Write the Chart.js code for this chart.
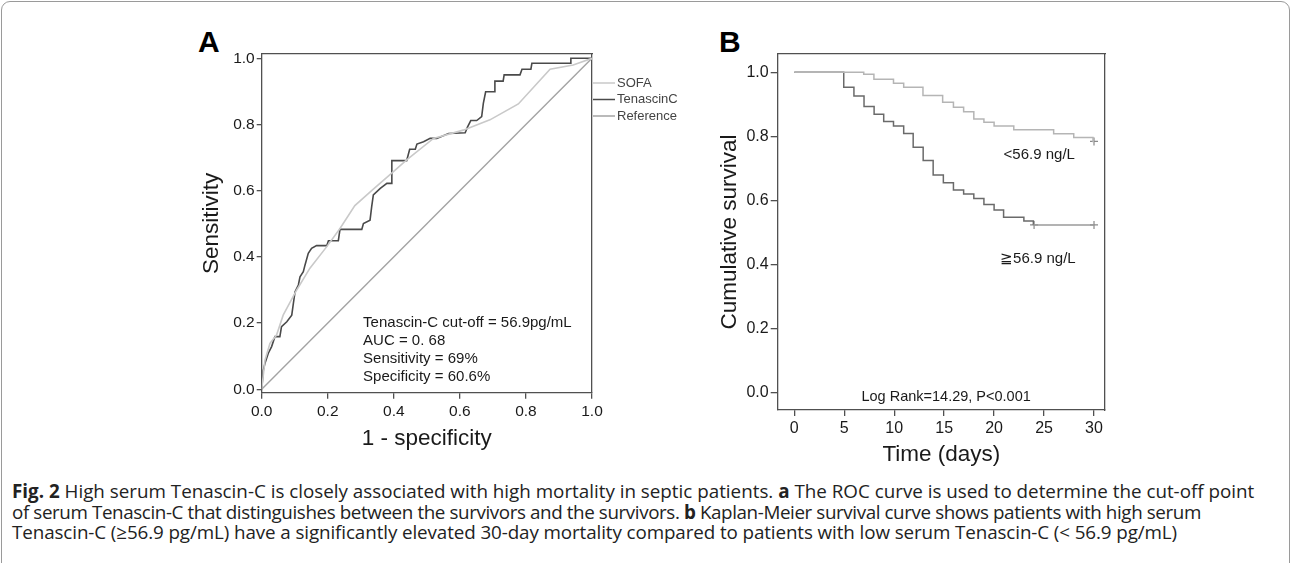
<!DOCTYPE html>
<html>
<head>
<meta charset="utf-8">
<script src="https://cdn.jsdelivr.net/npm/chart.js@4/dist/chart.umd.min.js"></script>
<style>
  body { margin: 0; background: #fff; width: 1292px; height: 563px; overflow: hidden; position: relative; font-family: "Liberation Sans", Arial, sans-serif; }
  .frame { position: absolute; left: 1px; top: 1px; width: 1287px; height: 600px; border: 1px solid #9a9a9a; border-radius: 9px; }
  .panel { position: absolute; font-weight: bold; font-size: 30px; color: #000; line-height: 30px; }
  canvas { position: absolute; }
  #rocWrap { position: absolute; left: 150px; top: 20px; width: 540px; height: 440px; }
  #kmWrap { position: absolute; left: 690px; top: 20px; width: 430px; height: 450px; }
  .caption { position: absolute; left: 12px; top: 481px; font-family: "Open Sans", Lato, sans-serif; font-size: 17px; line-height: 20.5px; color: #222; white-space: nowrap; }
  .caption div { display: table; }
</style>
</head>
<body>
<div class="frame"></div>
<div class="panel" style="left:198px;top:27px">A</div>
<div class="panel" style="left:719px;top:27px">B</div>
<div id="rocWrap"><canvas id="roc"></canvas></div>
<div id="kmWrap"><canvas id="km"></canvas></div>
<div class="caption" id="caption">
  <div><b>Fig. 2</b> High serum Tenascin-C is closely associated with high mortality in septic patients. <b>a</b> The ROC curve is used to determine the cut-off point</div>
  <div>of serum Tenascin-C that distinguishes between the survivors and the survivors. <b>b</b> Kaplan-Meier survival curve shows patients with high serum</div>
  <div>Tenascin-C (≥56.9 pg/mL) have a significantly elevated 30-day mortality compared to patients with low serum Tenascin-C (&lt; 56.9 pg/mL)</div>
</div>
<script>
// Panel A: ROC curves (x = 1 - specificity, y = sensitivity)
const tnX = [0, 0.005, 0.01, 0.02, 0.03, 0.04, 0.055, 0.06, 0.076, 0.091, 0.096, 0.101, 0.111, 0.116, 0.126, 0.131, 0.141, 0.151, 0.166, 0.197, 0.202, 0.232, 0.237, 0.303, 0.308, 0.328, 0.333, 0.338, 0.359, 0.379, 0.392, 0.394, 0.439, 0.448, 0.465, 0.47, 0.49, 0.51, 0.53, 0.566, 0.616, 0.623, 0.633, 0.651, 0.666, 0.671, 0.678, 0.704, 0.706, 0.731, 0.734, 0.782, 0.788, 0.815, 0.818, 0.934, 0.936, 1];
const tnY = [0, 0.058, 0.079, 0.109, 0.129, 0.159, 0.159, 0.189, 0.204, 0.224, 0.26, 0.295, 0.315, 0.34, 0.355, 0.375, 0.411, 0.426, 0.434, 0.434, 0.449, 0.449, 0.483, 0.483, 0.501, 0.511, 0.552, 0.587, 0.607, 0.622, 0.622, 0.691, 0.691, 0.725, 0.725, 0.741, 0.748, 0.758, 0.758, 0.773, 0.775, 0.792, 0.812, 0.812, 0.824, 0.864, 0.899, 0.899, 0.931, 0.931, 0.95, 0.95, 0.967, 0.967, 0.985, 0.985, 1, 1];
const sofaX = [0, 0.01, 0.025, 0.045, 0.065, 0.106, 0.146, 0.197, 0.237, 0.282, 0.338, 0.398, 0.439, 0.52, 0.61, 0.691, 0.777, 0.873, 0.943, 1];
const sofaY = [0, 0.088, 0.139, 0.164, 0.224, 0.3, 0.366, 0.431, 0.486, 0.555, 0.605, 0.657, 0.693, 0.758, 0.783, 0.814, 0.862, 0.967, 0.98, 1];
const refX = [0, 1];
const refY = [0, 1];
const rocTicks = [0, 0.2, 0.4, 0.6, 0.8, 1.0];
const rocNotes = ['Tenascin-C cut-off = 56.9pg/mL', 'AUC = 0. 68', 'Sensitivity = 69%', 'Specificity = 60.6%'];

// Panel B: Kaplan-Meier (event day, survival after event)
const lowT = [0, 6.95, 7.97, 9.93, 10.95, 12.88, 14.85, 15.93, 16.95, 17.97, 18.98, 20, 21.97, 25.96, 27.97, 29.9, 30];
const lowS = [1, 0.994, 0.978, 0.966, 0.953, 0.927, 0.906, 0.891, 0.877, 0.854, 0.844, 0.832, 0.82, 0.808, 0.796, 0.784, 0.784];
const highT = [0, 4.95, 5.97, 6.98, 7.99, 8.95, 9.93, 10.95, 11.9, 12.9, 13.9, 14.92, 15.93, 16.95, 17.97, 18.98, 20, 20.95, 22.98, 23.93, 30];
const highS = [1, 0.953, 0.926, 0.893, 0.869, 0.846, 0.832, 0.809, 0.766, 0.724, 0.679, 0.655, 0.632, 0.62, 0.606, 0.587, 0.57, 0.547, 0.535, 0.523, 0.523];
const censT = [30, 24, 30];
const censS = [0.784, 0.523, 0.523];
const kmXTicks = [0, 5, 10, 15, 20, 25, 30];
const kmYTicks = [0, 0.2, 0.4, 0.6, 0.8, 1.0];

// fit the caption lines to the widths they have in the figure
const capWidths = [1243, 1189, 1165];
const cap = document.getElementById('caption');
const lines = [...cap.children];
cap.style.fontSize = (17 * capWidths[0] / lines[0].getBoundingClientRect().width).toFixed(2) + 'px';
lines.forEach((el, i) => {
  if (i === 0) return;
  const w = el.getBoundingClientRect().width;
  el.style.letterSpacing = ((capWidths[i] - w) / el.textContent.trim().length).toFixed(3) + 'px';
});

const pts = (xs, ys) => xs.map((x, i) => ({ x, y: ys[i] }));
const FONT = '"Liberation Sans", Arial, sans-serif';
const axisCol = '#505050';

function fixTicks(list) { return s => { s.ticks = list.map(v => ({ value: v })); }; }
function frameAxis(pos) {
  return { position: pos, display: true, min: 0, max: 1, ticks: { display: false }, grid: { display: false },
    border: { display: true, color: axisCol, width: 1.3 },
    afterFit: s => { if (pos === 'top') s.height = 0; else s.width = 0; } };
}

new Chart(document.getElementById('roc'), {
  type: 'scatter',
  data: {
    datasets: [
      { label: 'SOFA', data: pts(sofaX, sofaY), borderColor: '#c9c9c9', borderWidth: 1.6, showLine: true, pointRadius: 0, tension: 0 },
      { label: 'TenascinC', data: pts(tnX, tnY), borderColor: '#4a4a4a', borderWidth: 1.6, showLine: true, pointRadius: 0, tension: 0 },
      { label: 'Reference', data: pts(refX, refY), borderColor: '#a3a3a3', borderWidth: 1.4, showLine: true, pointRadius: 0 }
    ]
  },
  options: {
    responsive: true, maintainAspectRatio: false, animation: false,
    layout: { padding: { top: 34, right: 98, left: 0, bottom: 0 } },
    plugins: { legend: { display: false }, tooltip: { enabled: false } },
    scales: {
      x: { min: 0, max: 1, afterBuildTicks: fixTicks(rocTicks), afterFit: s => { s.height = 67.3; },
        grid: { drawOnChartArea: false, tickLength: 6, color: axisCol, lineWidth: 1.3 },
        border: { color: axisCol, width: 1.3 },
        ticks: { padding: 4, color: '#1a1a1a', font: { family: FONT, size: 15.5 }, callback: v => v.toFixed(1) },
        title: { display: true, text: '1 - specificity', color: '#1a1a1a', font: { family: FONT, size: 22.5 }, padding: { top: 0, bottom: 8 } } },
      y: { min: -0.0103, max: 1.013, afterBuildTicks: fixTicks(rocTicks), afterFit: s => { s.width = 111.7; },
        grid: { drawOnChartArea: false, tickLength: 5, color: axisCol, lineWidth: 1.3 },
        border: { color: axisCol, width: 1.3 },
        ticks: { padding: 2, color: '#1a1a1a', font: { family: FONT, size: 15.5 }, callback: v => v.toFixed(1) },
        title: { display: true, text: 'Sensitivity', color: '#1a1a1a', font: { family: FONT, size: 22.5 }, padding: { top: 48, bottom: 0 } } },
      x2: frameAxis('top'),
      y2: frameAxis('right')
    }
  },
  plugins: [{
    id: 'rocNotes',
    afterDraw(chart) {
      const { ctx, chartArea, scales } = chart;
      ctx.save();
      // legend to the right of the plot
      ctx.font = '13px ' + FONT;
      ctx.textBaseline = 'middle';
      chart.data.datasets.forEach((ds, i) => {
        const y = 63 + i * 16.5;
        ctx.strokeStyle = ds.borderColor; ctx.lineWidth = 1.5;
        ctx.beginPath(); ctx.moveTo(chartArea.right + 1, y); ctx.lineTo(chartArea.right + 23, y); ctx.stroke();
        ctx.fillStyle = '#444';
        ctx.fillText(ds.label, chartArea.right + 25, y);
      });
      // statistics text
      ctx.font = '15px ' + FONT;
      ctx.fillStyle = '#1a1a1a';
      const x0 = scales.x.getPixelForValue(0.307);
      const ys = [0.201, 0.147, 0.092, 0.037];
      rocNotes.forEach((t, i) => ctx.fillText(t, x0, scales.y.getPixelForValue(ys[i])));
      ctx.restore();
    }
  }]
});

new Chart(document.getElementById('km'), {
  type: 'scatter',
  data: {
    datasets: [
      { label: '<56.9 ng/L', data: pts(lowT, lowS), borderColor: '#b5b5b5', borderWidth: 1.5, showLine: true, stepped: true, pointRadius: 0 },
      { label: '≧56.9 ng/L', data: pts(highT, highS), borderColor: '#6a6a6a', borderWidth: 1.5, showLine: true, stepped: true, pointRadius: 0,
        segment: { borderColor: c => c.p0.parsed.x >= 23.9 ? '#9a9a9a' : undefined } },
      { label: 'censored', data: pts(censT, censS), pointStyle: 'cross', pointRadius: 4, borderColor: '#8a8a8a', borderWidth: 1.2, showLine: false }
    ]
  },
  options: {
    responsive: true, maintainAspectRatio: false, animation: false,
    layout: { padding: { top: 34, right: 15, left: 0, bottom: 0 } },
    plugins: { legend: { display: false }, tooltip: { enabled: false } },
    scales: {
      x: { min: -1.66, max: 31.1, afterBuildTicks: fixTicks(kmXTicks), afterFit: s => { s.height = 60; },
        grid: { drawOnChartArea: false, tickLength: 6, color: axisCol, lineWidth: 1.3 },
        border: { color: axisCol, width: 1.3 },
        ticks: { padding: 3, color: '#1a1a1a', font: { family: FONT, size: 16 } },
        title: { display: true, text: 'Time (days)', color: '#1a1a1a', font: { family: FONT, size: 22.5 }, padding: { top: 0, bottom: 2 } } },
      y: { min: -0.055, max: 1.057, afterBuildTicks: fixTicks(kmYTicks), afterFit: s => { s.width = 87.7; },
        grid: { drawOnChartArea: false, tickLength: 7, color: axisCol, lineWidth: 1.3 },
        border: { color: axisCol, width: 1.3 },
        ticks: { padding: 2, color: '#1a1a1a', font: { family: FONT, size: 16 }, callback: v => v.toFixed(1) },
        title: { display: true, text: 'Cumulative survival', color: '#1a1a1a', font: { family: FONT, size: 22.5 }, padding: { top: 26, bottom: 0 } } },
      x2: frameAxis('top'),
      y2: frameAxis('right')
    }
  },
  plugins: [{
    id: 'kmNotes',
    afterDraw(chart) {
      const { ctx, scales } = chart;
      ctx.save();
      ctx.fillStyle = '#1a1a1a';
      ctx.textBaseline = 'middle';
      ctx.font = '15px ' + FONT;
      ctx.fillText(chart.data.datasets[0].label, scales.x.getPixelForValue(20.95), scales.y.getPixelForValue(0.742));
      ctx.fillText(chart.data.datasets[1].label, scales.x.getPixelForValue(20.6), scales.y.getPixelForValue(0.417));
      ctx.font = '14.5px ' + FONT;
      ctx.textAlign = 'center';
      ctx.fillText('Log Rank=14.29, P<0.001', scales.x.getPixelForValue(15.2), scales.y.getPixelForValue(-0.014));
      ctx.restore();
    }
  }]
});
</script>
</body>
</html>
